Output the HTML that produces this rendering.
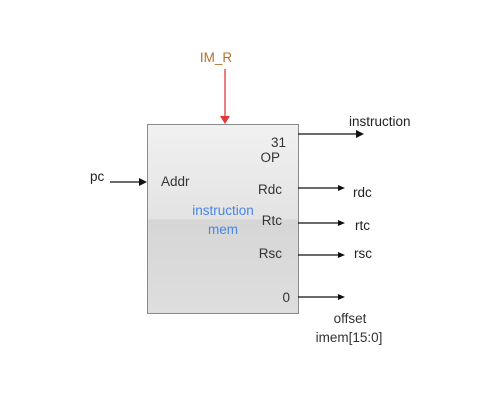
<!DOCTYPE html>
<html><head><meta charset="utf-8"><style>
html,body{margin:0;padding:0;background:#fff;}
svg text{font-family:"Liberation Sans",sans-serif;font-size:13.5px;}
</style></head><body>
<svg width="480" height="401" viewBox="0 0 480 401" xmlns="http://www.w3.org/2000/svg">
<defs>
<linearGradient id="g" x1="0" y1="0" x2="0" y2="1">
<stop offset="0" stop-color="#f1f1f1"/>
<stop offset="0.5" stop-color="#e3e3e3"/>
<stop offset="0.505" stop-color="#d6d6d6"/>
<stop offset="1" stop-color="#dedede"/>
</linearGradient>
</defs>
<rect x="147.5" y="124.5" width="151" height="189" fill="url(#g)" stroke="#8a8a8a"/>
<text x="216" y="62" fill="#b5702e" text-anchor="middle">IM_R</text>
<line x1="225" y1="69" x2="225" y2="116" stroke="#e0383c" stroke-width="1.3"/>
<polygon points="220,116 230,116 225,124" fill="#e0383c"/>
<text x="90" y="181" fill="#222">pc</text>
<line x1="110" y1="182" x2="140" y2="182" stroke="#111" stroke-width="1.3"/>
<polygon points="139,178 147,182 139,186" fill="#111"/>
<text x="161" y="186" fill="#333">Addr</text>
<text x="286" y="147" fill="#333" text-anchor="end">31</text>
<text x="280" y="162" fill="#333" text-anchor="end">OP</text>
<text x="282" y="194" fill="#333" text-anchor="end">Rdc</text>
<text x="282" y="225" fill="#333" text-anchor="end">Rtc</text>
<text x="282" y="258" fill="#333" text-anchor="end">Rsc</text>
<text x="290" y="302" fill="#333" text-anchor="end">0</text>
<text x="223" y="215" fill="#4a86e8" text-anchor="middle">instruction</text>
<text x="223" y="234" fill="#4a86e8" text-anchor="middle">mem</text>
<g stroke="#111" stroke-width="1.3">
<line x1="298" y1="134" x2="357" y2="134"/>
<line x1="298" y1="188" x2="339" y2="188"/>
<line x1="298" y1="223" x2="339" y2="223"/>
<line x1="298" y1="255" x2="339" y2="255"/>
<line x1="298" y1="297" x2="339" y2="297"/>
</g>
<g fill="#111">
<polygon points="356,130 364,134 356,138"/>
<polygon points="338,185 345,188 338,191"/>
<polygon points="338,220 345,223 338,226"/>
<polygon points="338,252 345,255 338,258"/>
<polygon points="338,294 345,297 338,300"/>
</g>
<text x="349" y="126" fill="#222">instruction</text>
<text x="353" y="197" fill="#222">rdc</text>
<text x="355" y="230" fill="#222">rtc</text>
<text x="354" y="258" fill="#222">rsc</text>
<text x="350" y="323" fill="#333" text-anchor="middle">offset</text>
<text x="349" y="342" fill="#333" text-anchor="middle">imem[15:0]</text>
</svg>
</body></html>
